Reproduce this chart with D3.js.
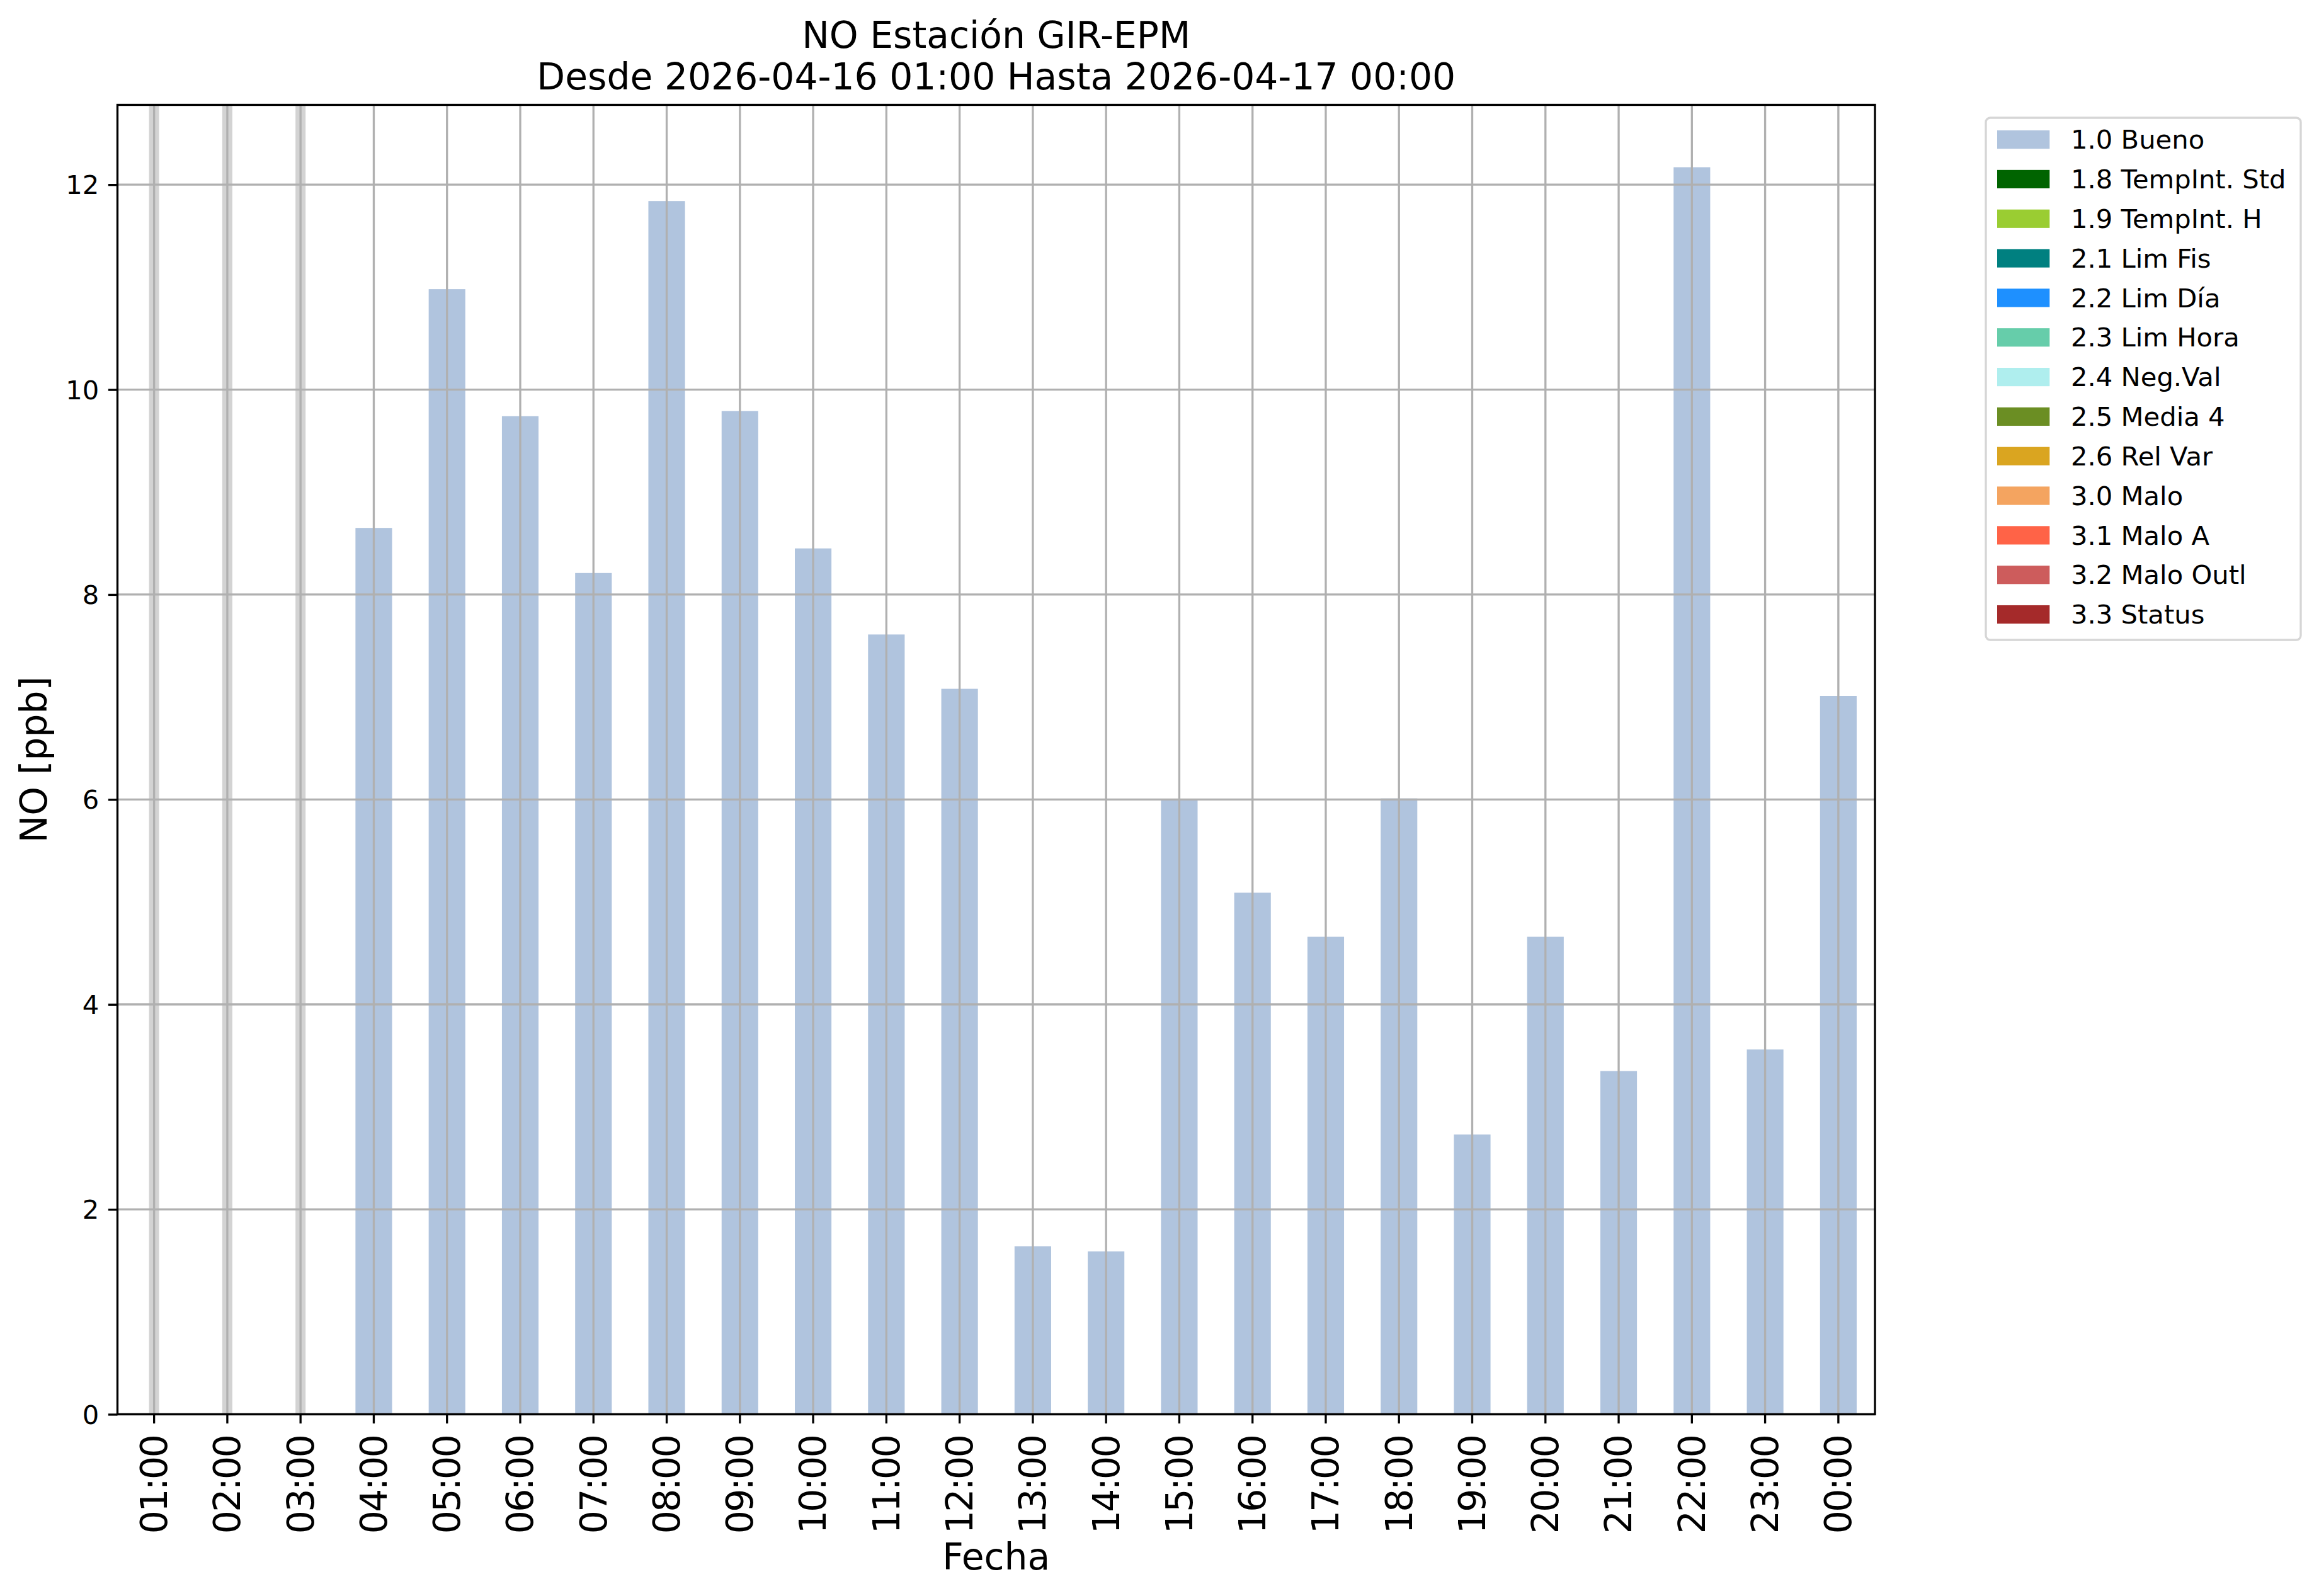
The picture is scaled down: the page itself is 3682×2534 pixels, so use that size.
<!DOCTYPE html>
<html>
<head>
<meta charset="utf-8">
<script src="https://cdn.jsdelivr.net/npm/d3@7"></script>
<style>
  html, body { margin: 0; padding: 0; background: #ffffff; }
  svg { display: block; }
  text { font-family: "DejaVu Sans", sans-serif; fill: #000; }
</style>
</head>
<body>
<svg id="chart" width="3682" height="2534"></svg>
<script>
// ---------------- DATA ----------------
const titleLines = ["NO Estación GIR-EPM", "Desde 2026-04-16 01:00 Hasta 2026-04-17 00:00"];
const xLabel = "Fecha";
const yLabel = "NO [ppb]";
const categories = ["01:00","02:00","03:00","04:00","05:00","06:00","07:00","08:00","09:00","10:00","11:00","12:00",
                    "13:00","14:00","15:00","16:00","17:00","18:00","19:00","20:00","21:00","22:00","23:00","00:00"];
// null = missing hour (shown as grey band)
const noValues = [null, null, null, 8.65, 10.98, 9.74, 8.21, 11.84, 9.79, 8.45, 7.61, 7.08,
                  1.64, 1.59, 6.00, 5.09, 4.66, 6.01, 2.73, 4.66, 3.35, 12.17, 3.56, 7.01];
const yTicks = [0, 2, 4, 6, 8, 10, 12];
const legendLabels = ["1.0 Bueno","1.8 TempInt. Std","1.9 TempInt. H","2.1 Lim Fis","2.2 Lim Día","2.3 Lim Hora",
                      "2.4 Neg.Val","2.5 Media 4","2.6 Rel Var","3.0 Malo","3.1 Malo A","3.2 Malo Outl","3.3 Status"];
const legendColors = ["#b0c4de","#006400","#9acd32","#008080","#1e90ff","#66cdaa",
                      "#afeeee","#6b8e23","#daa520","#f4a460","#ff6347","#cd5c5c","#a52a2a"];

// ---------------- LAYOUT ----------------
const L = 186.5, R = 2977, T = 166.5, B = 2245.5;
const lw = 3.33;             // 0.8pt at 300 dpi
const tickLen = 14.6;        // 3.5pt
const tickPad = 14.6;
const fsSmall = 41.7, fsLarge = 58.3;
const gridColor = "#b0b0b0";

const svg = d3.select("#chart");
svg.append("rect").attr("width", 3682).attr("height", 2534).attr("fill", "#fff");

const x = d3.scaleBand().domain(categories).range([L, R]).paddingInner(0.5).paddingOuter(0.25);
const ymax = d3.max(noValues) * 1.05;
const y = d3.scaleLinear().domain([0, ymax]).range([B, T]);
const cx = d => x(d) + x.bandwidth() / 2;

const data = categories.map((c, i) => ({ c, v: noValues[i] }));

// missing-data bands
svg.append("g").selectAll("rect").data(data.filter(d => d.v === null)).join("rect")
  .attr("x", d => cx(d.c) - 8).attr("width", 16)
  .attr("y", T).attr("height", B - T)
  .attr("fill", "#d3d3d3");

// bars
svg.append("g").selectAll("rect").data(data.filter(d => d.v !== null)).join("rect")
  .attr("x", d => x(d.c)).attr("width", x.bandwidth())
  .attr("y", d => y(d.v)).attr("height", d => y(0) - y(d.v))
  .attr("fill", legendColors[0]);

// grid (above bars, as in matplotlib default)
const grid = svg.append("g");
grid.selectAll("line.v").data(categories).join("line").attr("class", "v")
  .attr("x1", d => cx(d)).attr("x2", d => cx(d)).attr("y1", T).attr("y2", B)
  .attr("stroke", gridColor).attr("stroke-width", lw);
grid.selectAll("line.h").data(yTicks).join("line").attr("class", "h")
  .attr("x1", L).attr("x2", R).attr("y1", d => y(d)).attr("y2", d => y(d))
  .attr("stroke", gridColor).attr("stroke-width", lw);

// axes via d3
const xAxis = d3.axisBottom(x).tickSize(tickLen).tickPadding(tickPad).tickSizeOuter(0);
const gx = svg.append("g").attr("transform", `translate(0,${B})`).call(xAxis);
gx.select(".domain").remove();
gx.selectAll(".tick line").attr("stroke", "#000").attr("stroke-width", lw);
gx.selectAll(".tick text")
  .attr("font-size", fsLarge).attr("font-family", "DejaVu Sans")
  .attr("letter-spacing", "-2.5px")
  .attr("text-anchor", "end")
  .attr("x", 0).attr("y", 0).attr("dy", "0.35em")
  .attr("transform", `translate(0,${tickLen + tickPad + 5}) rotate(-90)`);

const yAxis = d3.axisLeft(y).tickValues(yTicks).tickFormat(d3.format("d")).tickSize(tickLen).tickPadding(tickPad).tickSizeOuter(0);
const gy = svg.append("g").attr("transform", `translate(${L},0)`).call(yAxis);
gy.select(".domain").remove();
gy.selectAll(".tick line").attr("stroke", "#000").attr("stroke-width", lw);
gy.selectAll(".tick text").attr("font-size", fsSmall).attr("font-family", "DejaVu Sans").attr("dy", "0.35em");

// spines
svg.append("rect").attr("x", L).attr("y", T).attr("width", R - L).attr("height", B - T)
  .attr("fill", "none").attr("stroke", "#000").attr("stroke-width", lw);

// title
svg.append("g").selectAll("text").data(titleLines).join("text")
  .attr("x", (L + R) / 2).attr("y", (d, i) => 76 + i * 66)
  .attr("text-anchor", "middle").attr("font-size", fsLarge).text(d => d);

// axis labels
svg.append("text").attr("x", (L + R) / 2).attr("y", 2492)
  .attr("text-anchor", "middle").attr("font-size", fsLarge).text(xLabel);
svg.append("text").attr("transform", `translate(74,${(T + B) / 2}) rotate(-90)`)
  .attr("text-anchor", "middle").attr("font-size", fsLarge).text(yLabel);

// legend
const lg = svg.append("g");
lg.append("rect").attr("x", 3153).attr("y", 187).attr("width", 500).attr("height", 829)
  .attr("rx", 7).attr("ry", 7)
  .attr("fill", "#fff").attr("fill-opacity", 0.8)
  .attr("stroke", "#d6d6d6").attr("stroke-width", lw);
const rowStep = 62.83;
const rows = lg.selectAll("g.row").data(legendLabels).join("g").attr("class", "row")
  .attr("transform", (d, i) => `translate(0,${207 + i * rowStep})`);
rows.append("rect").attr("x", 3171).attr("y", 0).attr("width", 83.3).attr("height", 29.2)
  .attr("fill", (d, i) => legendColors[i]);
rows.append("text").attr("x", 3288).attr("y", 14.6).attr("dy", "0.35em")
  .attr("font-size", fsSmall).text(d => d);
</script>
</body>
</html>
